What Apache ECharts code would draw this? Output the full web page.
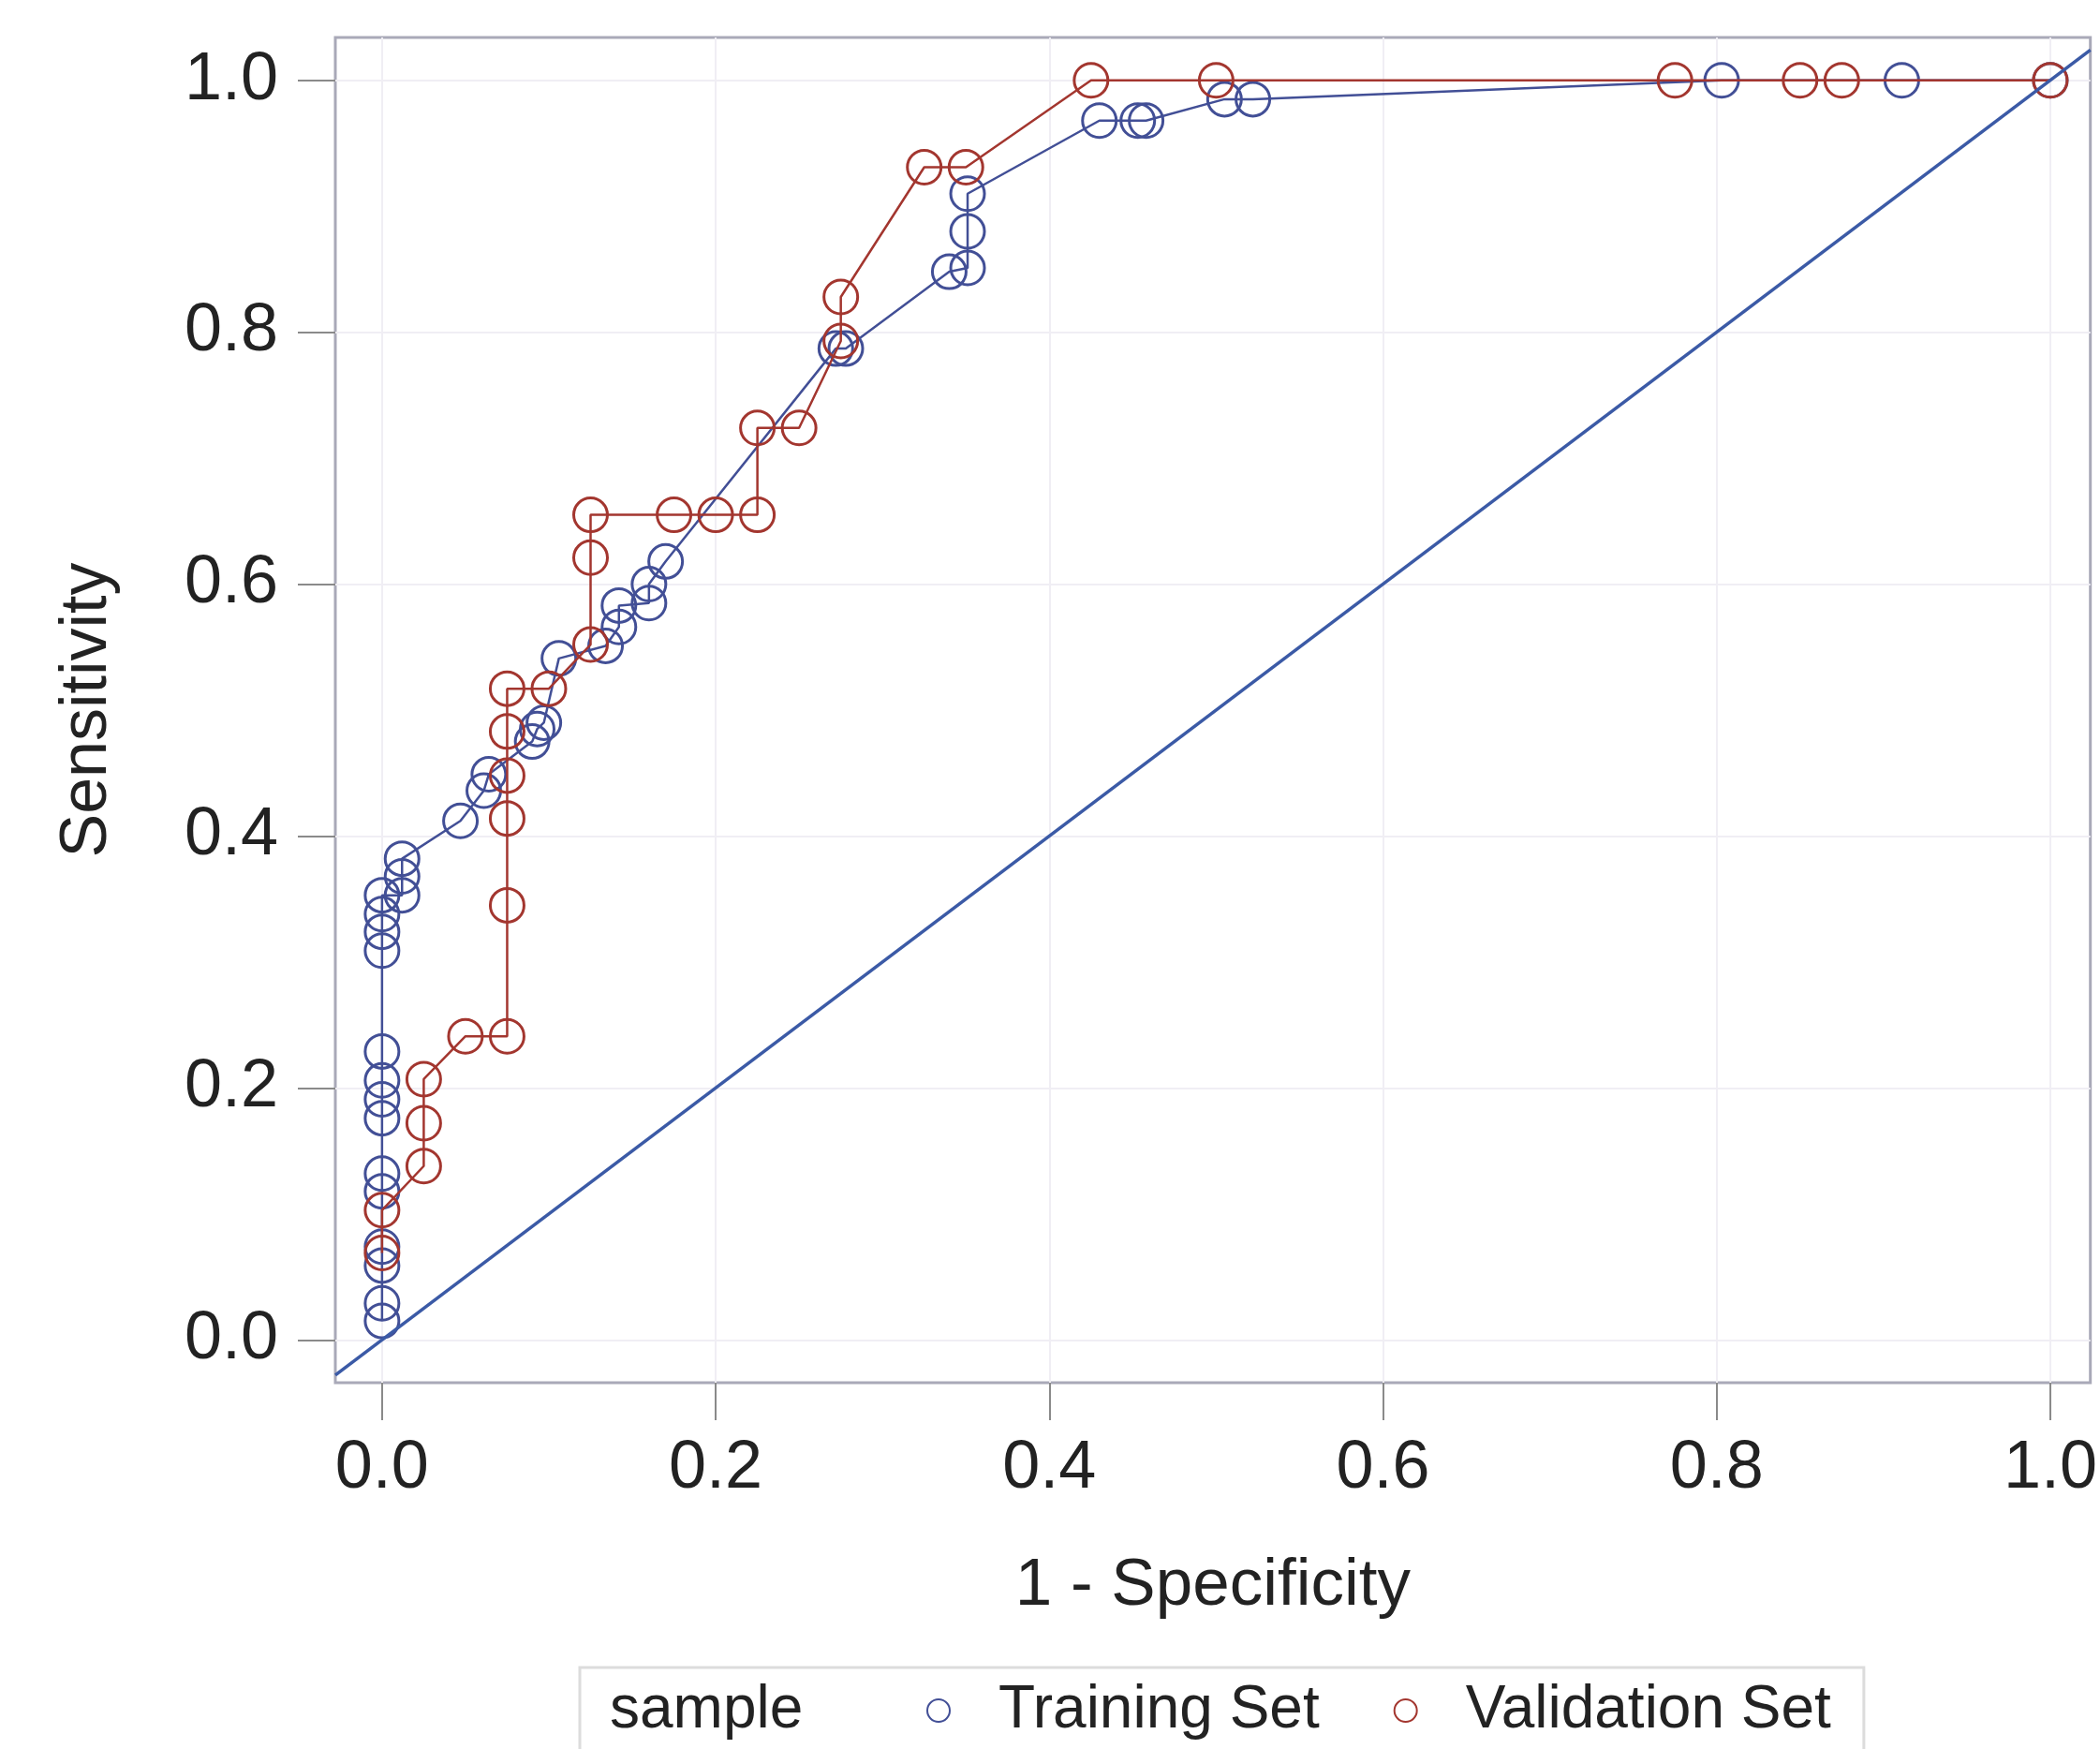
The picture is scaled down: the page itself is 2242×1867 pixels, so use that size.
<!DOCTYPE html>
<html lang="en">

<head>
    <meta charset="UTF-8">
    <title>ROC</title>
    <script src="https://cdn.jsdelivr.net/npm/echarts@6/dist/echarts.min.js"></script>
    <style>
        html,
        body {
            margin: 0;
            padding: 0;
            background: #fff;
        }

        #main {
            width: 2242px;
            height: 1867px;
        }
    </style>
</head>

<body>
    <div id="main"></div>
    <script type="text/javascript">
        // axis ticks
        var tickValues = [0, 0.2, 0.4, 0.6, 0.8, 1.0];
        var xMin = -0.028, xMax = 1.024;
        var yMin = -0.034, yMax = 1.034;

        // Training Set (1 - specificity, sensitivity)
        var trainX = [0, 0, 0, 0, 0, 0, 0, 0, 0, 0, 0, 0, 0, 0,
            0.012, 0.012, 0.012, 0.047, 0.061, 0.064, 0.090, 0.093, 0.097, 0.106,
            0.134, 0.142, 0.142, 0.160, 0.160, 0.170, 0.272, 0.278,
            0.340, 0.351, 0.351, 0.351, 0.430, 0.453, 0.458, 0.505, 0.522,
            0.803, 0.911, 1.0];
        var trainY = [0.015, 0.029, 0.059, 0.074, 0.118, 0.132, 0.176, 0.191, 0.206, 0.229, 0.309, 0.324, 0.338, 0.353,
            0.353, 0.368, 0.382, 0.412, 0.436, 0.449, 0.475, 0.485, 0.490, 0.541,
            0.551, 0.566, 0.583, 0.585, 0.600, 0.618, 0.787, 0.787,
            0.848, 0.851, 0.880, 0.910, 0.968, 0.968, 0.968, 0.985, 0.985,
            1.0, 1.0, 1.0];

        // Validation Set
        var validX = [0, 0, 0.025, 0.025, 0.025, 0.05, 0.075, 0.075, 0.075, 0.075, 0.075, 0.075,
            0.1, 0.125, 0.125, 0.125, 0.175, 0.2, 0.225, 0.225, 0.25, 0.275, 0.275,
            0.325, 0.35, 0.425, 0.5, 0.775, 0.85, 0.875, 1.0];
        var validY = [0.069, 0.103, 0.138, 0.172, 0.207, 0.241, 0.241, 0.345, 0.414, 0.448, 0.483, 0.517,
            0.517, 0.552, 0.621, 0.655, 0.655, 0.655, 0.655, 0.724, 0.724, 0.793, 0.828,
            0.931, 0.931, 1.0, 1.0, 1.0, 1.0, 1.0, 1.0];

        // chance line y = x across the frame
        var refLine = [[xMin, xMin], [xMax, xMax]];

        function pairs(xs, ys) {
            return xs.map(function(x, i) {
                return [x, ys[i]];
            });
        }

        var blue = '#424f96';
        var red = '#a3362f';
        var font = 'Liberation Sans, Arial, sans-serif';

        var myChart = echarts.init(document.getElementById('main'));

        var option = {
            animation: false,
            backgroundColor: '#ffffff',
            grid: {
                left: 358,
                top: 40,
                right: -2,
                bottom: 391,
                show: true,
                borderColor: '#a9a9b8',
                borderWidth: 3,
                containLabel: false
            },
            xAxis: {
                type: 'value',
                min: xMin,
                max: xMax,
                name: '1 - Specificity',
                nameLocation: 'middle',
                nameGap: 182,
                nameTextStyle: {
                    fontFamily: font,
                    fontSize: 71,
                    color: '#222'
                },
                axisLine: { show: false, onZero: false },
                axisTick: {
                    show: true,
                    length: 40,
                    customValues: tickValues,
                    lineStyle: { color: '#8a8a8a', width: 2 }
                },
                axisLabel: {
                    customValues: tickValues,
                    margin: 56,
                    fontFamily: font,
                    fontSize: 72,
                    color: '#222',
                    formatter: function(v) { return v.toFixed(1); }
                },
                splitLine: {
                    show: true,
                    lineStyle: { color: '#f0eef4', width: 2 }
                }
            },
            yAxis: {
                type: 'value',
                min: yMin,
                max: yMax,
                name: 'Sensitivity',
                nameLocation: 'middle',
                nameGap: 229,
                nameTextStyle: {
                    fontFamily: font,
                    fontSize: 70,
                    color: '#222'
                },
                axisLine: { show: false, onZero: false },
                axisTick: {
                    show: true,
                    length: 40,
                    customValues: tickValues,
                    lineStyle: { color: '#8a8a8a', width: 2 }
                },
                axisLabel: {
                    customValues: tickValues,
                    margin: 61,
                    fontFamily: font,
                    fontSize: 72,
                    color: '#222',
                    formatter: function(v) { return v.toFixed(1); }
                },
                splitLine: {
                    show: true,
                    lineStyle: { color: '#f0eef4', width: 2 }
                }
            },
            legend: {
                left: 619,
                top: 1780,
                orient: 'horizontal',
                padding: [14, 35, 60, 370],
                borderColor: '#dcdcdc',
                borderWidth: 3,
                icon: 'circle',
                itemWidth: 118,
                itemHeight: 24,
                itemGap: 79,
                data: ['Training Set', 'Validation Set'],
                textStyle: {
                    fontFamily: font,
                    fontSize: 64,
                    color: '#222'
                }
            },
            graphic: [{
                type: 'text',
                left: 651,
                top: 1794,
                style: {
                    text: 'sample',
                    fontFamily: font,
                    fontSize: 64,
                    fill: '#222'
                }
            }],
            series: [{
                    name: 'Training Set',
                    type: 'line',
                    data: pairs(trainX, trainY),
                    symbol: 'circle',
                    symbolSize: 36,
                    lineStyle: { color: blue, width: 2.5 },
                    itemStyle: { color: 'rgba(255,255,255,0)', borderColor: blue, borderWidth: 3 },
                    z: 3
                },
                {
                    name: 'Validation Set',
                    type: 'line',
                    data: pairs(validX, validY),
                    symbol: 'circle',
                    symbolSize: 36,
                    lineStyle: { color: red, width: 2.5 },
                    itemStyle: { color: 'rgba(255,255,255,0)', borderColor: red, borderWidth: 3 },
                    z: 4
                },
                {
                    name: 'ref',
                    type: 'line',
                    data: refLine,
                    symbol: 'none',
                    lineStyle: { color: '#3b5aa6', width: 3.5 },
                    silent: true,
                    z: 5
                }
            ]
        };

        myChart.setOption(option);
    </script>
</body>

</html>
